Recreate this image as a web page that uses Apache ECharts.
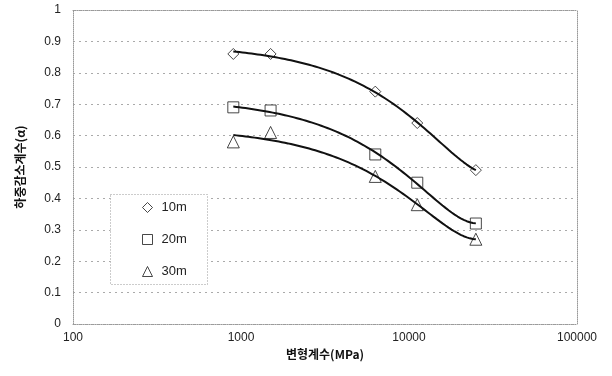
<!DOCTYPE html>
<html>
<head>
<meta charset="utf-8">
<script src="https://cdn.jsdelivr.net/npm/echarts@6/dist/echarts.min.js"></script>
<style>
  html, body { margin: 0; padding: 0; background: #fff; }
  #chart { width: 612px; height: 376px; }
</style>
</head>
<body>
<div id="chart"></div>
<script>
// Deformation modulus (MPa) for each test
const modulus = [900, 1500, 6300, 11200, 25000];
// Load reduction factor per pile length
const seriesNames = ['10m', '20m', '30m'];
const alpha10 = [0.86, 0.86, 0.74, 0.64, 0.49];
const alpha20 = [0.69, 0.68, 0.54, 0.45, 0.32];
const alpha30 = [0.58, 0.61, 0.47, 0.38, 0.27];
const symbols = ['diamond', 'rect', 'triangle'];
const symbolSizes = [11, 11, 12];
const trendOrder = 2;

// Least-squares polynomial trendline (in linear x, shown on the log axis)
function polyFit(xs, ys, order) {
  const n = order + 1;
  const A = [];
  for (let i = 0; i < n; i++) {
    A.push(new Array(n + 1).fill(0));
  }
  for (let k = 0; k < xs.length; k++) {
    const pw = [];
    for (let i = 0; i < 2 * n; i++) pw.push(Math.pow(xs[k], i));
    for (let i = 0; i < n; i++) {
      for (let j = 0; j < n; j++) A[i][j] += pw[i + j];
      A[i][n] += ys[k] * pw[i];
    }
  }
  for (let c = 0; c < n; c++) {
    let p = c;
    for (let r = c + 1; r < n; r++) if (Math.abs(A[r][c]) > Math.abs(A[p][c])) p = r;
    [A[c], A[p]] = [A[p], A[c]];
    for (let r = 0; r < n; r++) {
      if (r === c) continue;
      const f = A[r][c] / A[c][c];
      for (let j = c; j <= n; j++) A[r][j] -= f * A[c][j];
    }
  }
  return A.map((row, i) => row[n] / row[i]);
}

function trendPoints(xs, ys) {
  const coef = polyFit(xs.map(v => v / 1000), ys, trendOrder);
  const out = [];
  const lo = Math.log10(xs[0]), hi = Math.log10(xs[xs.length - 1]);
  const steps = 80;
  for (let i = 0; i <= steps; i++) {
    const x = Math.pow(10, lo + (hi - lo) * i / steps);
    const xk = x / 1000;
    let y = 0;
    for (let d = 0; d < coef.length; d++) y += coef[d] * Math.pow(xk, d);
    out.push([x, y]);
  }
  return out;
}

const allAlpha = [alpha10, alpha20, alpha30];
const series = [];
allAlpha.forEach((vals, i) => {
  series.push({
    name: seriesNames[i],
    type: 'scatter',
    symbol: symbols[i],
    symbolSize: symbolSizes[i],
    itemStyle: { color: '#fff', borderColor: '#1a1a1a', borderWidth: 1 },
    z: 2,
    data: modulus.map((x, k) => [x, vals[k]])
  });
  series.push({
    name: seriesNames[i] + '-trend',
    type: 'line',
    showSymbol: false,
    smooth: false,
    lineStyle: { color: '#111', width: 2 },
    z: 3,
    silent: true,
    data: trendPoints(modulus, vals)
  });
});

const chart = echarts.init(document.getElementById('chart'));
chart.setOption({
  backgroundColor: '#fff',
  animation: false,
  grid: { left: 73, right: 35, top: 10, bottom: 52 },
  xAxis: [{
    type: 'log',
    logBase: 10,
    min: 100,
    max: 100000,
    name: '변형계수(MPa)',
    nameLocation: 'middle',
    nameGap: 15,
    nameTextStyle: { fontFamily: 'Noto Sans CJK KR', fontWeight: 'bold', fontSize: 12, color: '#111' },
    axisLine: { lineStyle: { color: '#999', type: 'dotted', width: 1 } },
    axisTick: { show: false },
    splitLine: { show: false },
    minorTick: { show: false },
    axisLabel: {
      fontFamily: 'Liberation Sans', fontSize: 12, color: '#222', margin: 8,
      formatter: v => String(Math.round(v))
    }
  }, {
    type: 'log',
    position: 'top',
    min: 100,
    max: 100000,
    axisLine: { show: true, onZero: false, lineStyle: { color: '#999', type: 'dotted', width: 1 } },
    axisTick: { show: false },
    axisLabel: { show: false },
    splitLine: { show: false }
  }],
  yAxis: [{
    type: 'value',
    min: 0,
    max: 1,
    interval: 0.1,
    name: '하중감소계수(α)',
    nameLocation: 'middle',
    nameGap: 47,
    nameRotate: 90,
    nameTextStyle: { fontFamily: 'Noto Sans CJK KR', fontWeight: 'bold', fontSize: 12, color: '#111' },
    axisLine: { show: true, lineStyle: { color: '#999', type: 'dotted', width: 1 } },
    axisTick: { show: false },
    splitLine: { show: true, lineStyle: { color: '#aaa', type: [2, 4], width: 1 } },
    axisLabel: {
      fontFamily: 'Liberation Sans', fontSize: 12, color: '#222', margin: 12,
      formatter: v => String(+v.toFixed(1))
    }
  }, {
    type: 'value',
    position: 'right',
    min: 0,
    max: 1,
    axisLine: { show: true, onZero: false, lineStyle: { color: '#999', type: 'dotted', width: 1 } },
    axisTick: { show: false },
    axisLabel: { show: false },
    splitLine: { show: false }
  }],
  legend: {
    orient: 'vertical',
    left: 137,
    top: 196,
    itemWidth: 10,
    itemHeight: 10,
    itemGap: 19,
    data: [
      { name: '10m', icon: 'diamond' },
      { name: '20m', icon: 'rect' },
      { name: '30m', icon: 'triangle' }
    ],
    itemStyle: { color: '#fff', borderColor: '#1a1a1a', borderWidth: 1 },
    textStyle: { fontFamily: 'Liberation Sans', fontSize: 13, color: '#222', padding: [0, 0, 0, 4] }
  },
  graphic: [{
    type: 'rect',
    shape: { x: 110.5, y: 194.5, width: 97, height: 90 },
    style: { fill: '#fff', stroke: '#999', lineWidth: 1, lineDash: [1, 2] },
    z: 1
  }],
  series: series
});
</script>
</body>
</html>
